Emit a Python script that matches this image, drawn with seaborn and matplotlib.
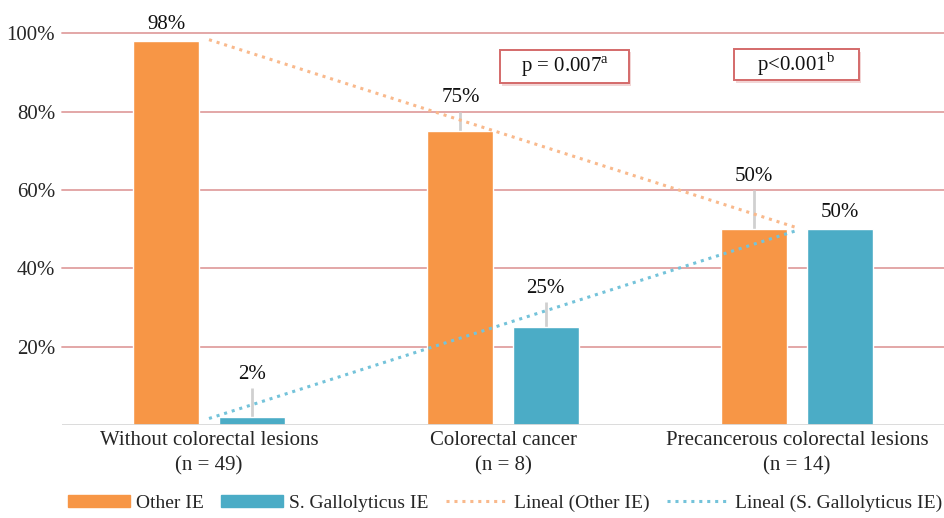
import numpy as np
import pandas as pd
import matplotlib
matplotlib.use("Agg")
import matplotlib.pyplot as plt
import seaborn as sns
from matplotlib.patches import Patch, Rectangle
from matplotlib.lines import Line2D

categories = ["Without colorectal lesions\n(n = 49)", "Colorectal cancer\n(n = 8)",
              "Precancerous colorectal lesions\n(n = 14)"]
series = ["Other IE", "S. Gallolyticus IE"]
other_ie = [98, 75, 50]
sgallo_ie = [2, 25, 50]
other_err = [0, 5, 10]
sgallo_err = [7.5, 6.4, 0]
yticks = [20, 40, 60, 80, 100]
ytick_labels = ["20%", "40%", "60%", "80%", "100%"]
pvalues = ["p = 0.007$^{\\mathrm{a}}$", "p<0.001$^{\\mathrm{b}}$"]

sns.set_theme(style="white")
plt.rcParams["font.family"] = ["Liberation Serif", "DejaVu Serif"]
plt.rcParams["mathtext.fontset"] = "custom"
plt.rcParams["mathtext.rm"] = "Liberation Serif"

ORANGE = "#F79646"
BLUE = "#4BACC6"
ORANGE_L = "#F9B98C"
BLUE_L = "#74C3DA"
FS = 15

df = pd.DataFrame({
    "cat": categories * 2,
    "series": [series[0]] * 3 + [series[1]] * 3,
    "value": other_ie + sgallo_ie,
})

fig = plt.figure(figsize=(9.44, 5.18), dpi=100)
ax = fig.add_axes([0.0657, 0.1795, 0.9343, 0.7565])

sns.barplot(data=df, x="cat", y="value", hue="series", palette=[ORANGE, BLUE],
            width=0.58, gap=0.228, ax=ax, legend=False, zorder=3, saturation=1)

ax.set_xlim(-0.5, 2.5)
ax.set_ylim(0, 100)

# gridlines
for t in yticks:
    ax.axhline(t, color="#E0A0A0", lw=1.3, zorder=1, clip_on=False)
ax.axhline(0, color="#D9D9D9", lw=1.3, zorder=4)

xs = np.arange(len(categories))
off = 0.145
# error lines and labels
for vals, errs, sign in [(other_ie, other_err, -1), (sgallo_ie, sgallo_err, 1)]:
    for i, (v, e) in enumerate(zip(vals, errs)):
        x = xs[i] + sign * off
        if e > 0:
            ax.vlines(x, v, v + e, color="#D0D0D0", lw=2, zorder=2)
        ax.annotate(f"{v}%", (x, v + e), xytext=(0, 3 if e > 0 else 5),
                    textcoords="offset points", ha="center", va="bottom",
                    fontsize=FS, color="#111111", annotation_clip=False)

# linear trend lines
for vals, col in [(other_ie, ORANGE_L), (sgallo_ie, BLUE_L)]:
    k, b = np.polyfit(xs, vals, 1)
    sns.lineplot(x=xs, y=k * xs + b, ax=ax, color=col, lw=2.2,
                 linestyle=(0, (1, 1.6)), zorder=5)

# p-value boxes
boxes = [(0.990, 87.2, 0.439, 8.5), (1.786, 88.0, 0.425, 7.9)]
for (x0, y0, w, h), txt in zip(boxes, pvalues):
    ax.add_patch(Rectangle((x0 + 0.006, y0 - 0.6), w, h, fc="#F2D5D5", ec="none",
                           zorder=5.5, clip_on=False))
    ax.add_patch(Rectangle((x0, y0), w, h, fc="white", ec="#D46A6A", lw=1.4,
                           zorder=6, clip_on=False))
    ax.text(x0 + w / 2, y0 + h / 2, txt, ha="center", va="center", fontsize=FS,
            zorder=7, color="#111111")

ax.set_yticks(yticks)
ax.set_yticklabels(ytick_labels, fontsize=FS)
ax.set_xticks(xs)
ax.set_xticklabels(categories, fontsize=FS, linespacing=1.5)
ax.tick_params(axis="y", length=0, pad=5)
ax.tick_params(axis="x", length=0, pad=4)
ax.set_xlabel("")
ax.set_ylabel("")
for s in ax.spines.values():
    s.set_visible(False)

handles = [Patch(color=ORANGE, label="Other IE"),
           Patch(color=BLUE, label="S. Gallolyticus IE"),
           Line2D([], [], color=ORANGE_L, lw=2.2, linestyle=(0, (1, 1.6)), label="Lineal (Other IE)"),
           Line2D([], [], color=BLUE_L, lw=2.2, linestyle=(0, (1, 1.6)), label="Lineal (S. Gallolyticus IE)")]
fig.legend(handles=handles, loc="lower center", bbox_to_anchor=(0.535, -0.022), ncol=4,
           frameon=False, fontsize=14, handlelength=3.2, handleheight=0.55,
           columnspacing=0.9, handletextpad=0.3)

fig.savefig("out.png", dpi=100)
